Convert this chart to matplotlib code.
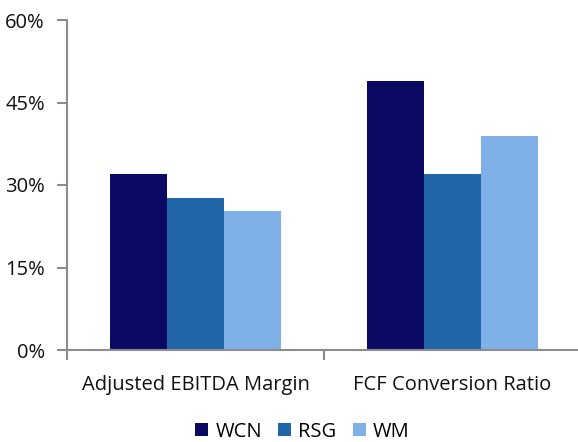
import matplotlib
matplotlib.use("Agg")
import matplotlib.pyplot as plt
import numpy as np
from matplotlib.patches import Patch
from matplotlib.ticker import FuncFormatter

categories = ["Adjusted EBITDA Margin", "FCF Conversion Ratio"]
series = ["WCN", "RSG", "WM"]
wcn = [32.0, 49.0]
rsg = [27.7, 32.0]
wm = [25.2, 39.0]
yticks = [0, 15, 30, 45, 60]

colors = ["#0b0a63", "#2166a6", "#80b0e8"]
axis_grey = "#8c8c8c"

plt.rcParams["font.family"] = ["Open Sans", "DejaVu Sans"]

fig = plt.figure(figsize=(5.78, 4.42), dpi=100)
# axes spans from the y-axis line to just past the right edge
ax = fig.add_axes([67 / 578, 1 - 350 / 442, 514 / 578, 330 / 442])

x = np.arange(len(categories))
w = 0.222
for i, (vals, c) in enumerate(zip([wcn, rsg, wm], colors)):
    ax.bar(x + (i - 1) * w, vals, width=w, color=c, zorder=2)

ax.set_xlim(-0.5, 1.5)
ax.set_ylim(0, 60)
ax.set_yticks(yticks)
ax.yaxis.set_major_formatter(FuncFormatter(lambda v, p: f"{v:.0f}%"))

# category boundary ticks, labels sit in between without ticks
ax.set_xticks([-0.5, 0.5, 1.5])
ax.set_xticklabels([])
ax.set_xticks(x, minor=True)
ax.set_xticklabels(categories, minor=True)
ax.tick_params(axis="x", which="minor", length=0, pad=18, labelsize=14.5, colors="#111111")
ax.tick_params(axis="x", which="major", length=7, width=1.5, color=axis_grey, direction="out")
ax.tick_params(axis="y", length=7, width=1.5, color=axis_grey, direction="out",
               pad=9, labelsize=14.5, labelcolor="#111111")

for s in ["top", "right"]:
    ax.spines[s].set_visible(False)
for s in ["left", "bottom"]:
    ax.spines[s].set_color(axis_grey)
    ax.spines[s].set_linewidth(1.5)

handles = [Patch(facecolor=c, label=s) for c, s in zip(colors, series)]
fig.legend(handles=handles, loc="lower center", bbox_to_anchor=(0.523, -0.04),
           ncol=3, frameon=False, fontsize=14.5, handlelength=0.65, handleheight=0.65,
           handletextpad=0.35, columnspacing=0.8)

fig.savefig("out.png", dpi=100)
